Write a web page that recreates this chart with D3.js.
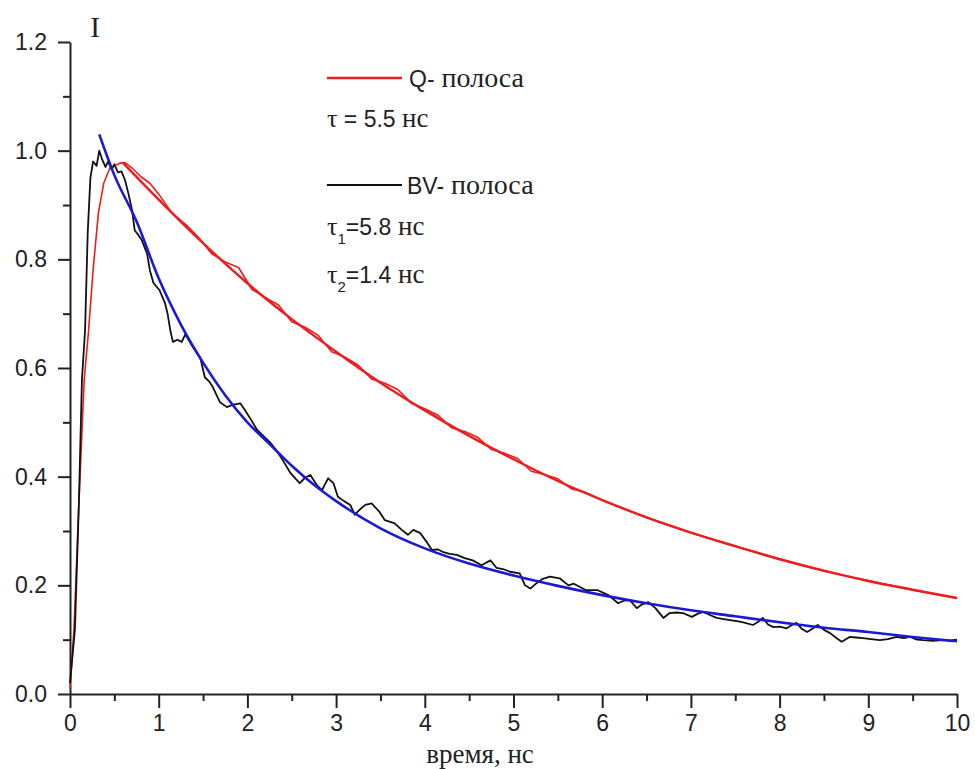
<!DOCTYPE html>
<html>
<head>
<meta charset="utf-8">
<script src="https://cdn.jsdelivr.net/npm/d3@7"></script>
<style>
  body { margin: 0; background: #fff; }
  svg { display: block; }
</style>
</head>
<body>
<svg id="chart"></svg>
<script>
// Data (time in ns, normalised intensity)

// Q band, measured
const qRaw = [
  [0, 0.01], [0.045, 0.12], [0.1, 0.35], [0.16, 0.578], [0.21, 0.67], [0.26, 0.78],
  [0.32, 0.885], [0.38, 0.94], [0.45, 0.968], [0.56, 0.977], [0.62, 0.978], [0.7, 0.968],
  [0.8, 0.952], [0.9, 0.94], [1.0, 0.92], [1.15, 0.885], [1.3, 0.865], [1.45, 0.84],
  [1.6, 0.81], [1.75, 0.795], [1.9, 0.785], [2.05, 0.745], [2.2, 0.73], [2.35, 0.716],
  [2.5, 0.685], [2.65, 0.675], [2.8, 0.66], [2.95, 0.63], [3.1, 0.62], [3.25, 0.605],
  [3.4, 0.58], [3.55, 0.572], [3.7, 0.56], [3.85, 0.535], [4.0, 0.525], [4.15, 0.513],
  [4.3, 0.49], [4.45, 0.483], [4.6, 0.472], [4.75, 0.45], [4.9, 0.443], [5.05, 0.433],
  [5.2, 0.41], [5.35, 0.404], [5.5, 0.396], [5.65, 0.378], [5.8, 0.372], [6.0, 0.357],
  [6.5, 0.325], [7.0, 0.297], [7.5, 0.272], [8.0, 0.249], [8.5, 0.226], [9.0, 0.209],
  [9.5, 0.191], [10, 0.176]
]

// Q band, single exponential fit (tau = 5.5 ns)
const qFit = [
  [0.6, 0.977], [1.0, 0.91], [1.5, 0.83], [2.0, 0.756], [2.5, 0.69], [3.0, 0.63],
  [3.5, 0.573], [4.0, 0.522], [4.5, 0.475], [5.0, 0.432], [5.5, 0.392], [6.0, 0.357],
  [6.5, 0.325], [7.0, 0.297], [7.5, 0.272], [8.0, 0.248], [8.5, 0.227], [9.0, 0.208],
  [9.5, 0.192], [10, 0.177]
]

// BV band, measured
const bvRaw = [
  [0, 0.02], [0.056, 0.12], [0.1, 0.35], [0.135, 0.58], [0.17, 0.67], [0.2, 0.85],
  [0.23, 0.95], [0.26, 0.98], [0.3, 0.972], [0.33, 1.0], [0.36, 0.985], [0.4, 0.97],
  [0.43, 0.98], [0.47, 0.965], [0.5, 0.975], [0.54, 0.96], [0.58, 0.962], [0.62, 0.946],
  [0.66, 0.92], [0.7, 0.89], [0.73, 0.853], [0.77, 0.845], [0.81, 0.835], [0.87, 0.81],
  [0.9, 0.78], [0.94, 0.757], [1.01, 0.743], [1.07, 0.72], [1.1, 0.7], [1.13, 0.67],
  [1.16, 0.648], [1.21, 0.652], [1.26, 0.648], [1.3, 0.662], [1.38, 0.64], [1.47, 0.618],
  [1.52, 0.583], [1.57, 0.575], [1.61, 0.565], [1.69, 0.537], [1.77, 0.528], [1.83, 0.532],
  [1.92, 0.535], [1.97, 0.523], [2.04, 0.505], [2.11, 0.486], [2.18, 0.475], [2.25, 0.464],
  [2.32, 0.45], [2.4, 0.43], [2.48, 0.408], [2.55, 0.395], [2.59, 0.388], [2.65, 0.398],
  [2.71, 0.403], [2.78, 0.385], [2.84, 0.375], [2.91, 0.397], [2.97, 0.388], [3.02, 0.363],
  [3.09, 0.355], [3.16, 0.348], [3.21, 0.33], [3.27, 0.34], [3.33, 0.348], [3.4, 0.351],
  [3.49, 0.335], [3.55, 0.32], [3.66, 0.314], [3.74, 0.302], [3.81, 0.293], [3.87, 0.302],
  [3.95, 0.296], [4.02, 0.28], [4.08, 0.265], [4.15, 0.266], [4.21, 0.261], [4.28, 0.258],
  [4.36, 0.256], [4.45, 0.25], [4.54, 0.246], [4.64, 0.237], [4.74, 0.246], [4.81, 0.232],
  [4.88, 0.23], [4.96, 0.225], [5.07, 0.222], [5.13, 0.2], [5.19, 0.194], [5.26, 0.204],
  [5.33, 0.212], [5.41, 0.216], [5.52, 0.213], [5.62, 0.2], [5.68, 0.203], [5.75, 0.197],
  [5.82, 0.191], [5.95, 0.191], [6.07, 0.182], [6.18, 0.167], [6.25, 0.172], [6.31, 0.173],
  [6.39, 0.158], [6.45, 0.165], [6.52, 0.169], [6.6, 0.158], [6.69, 0.14], [6.76, 0.149],
  [6.84, 0.15], [6.91, 0.149], [7.01, 0.142], [7.08, 0.148], [7.14, 0.151], [7.22, 0.145],
  [7.29, 0.14], [7.37, 0.138], [7.44, 0.136], [7.52, 0.134], [7.59, 0.132], [7.7, 0.127],
  [7.76, 0.133], [7.81, 0.14], [7.87, 0.128], [7.93, 0.123], [8.0, 0.124], [8.08, 0.121],
  [8.14, 0.127], [8.19, 0.131], [8.25, 0.12], [8.31, 0.114], [8.37, 0.12], [8.43, 0.127],
  [8.5, 0.118], [8.57, 0.112], [8.64, 0.103], [8.7, 0.096], [8.79, 0.105], [8.86, 0.104],
  [8.94, 0.103], [9.03, 0.101], [9.13, 0.099], [9.22, 0.101], [9.32, 0.105], [9.4, 0.103],
  [9.47, 0.105], [9.55, 0.1], [9.62, 0.099], [9.73, 0.098], [9.84, 0.099], [9.92, 0.098],
  [10, 0.1]
]

// BV band, two-exponential fit (tau1 = 5.8 ns, tau2 = 1.4 ns)
const bvFit = [
  [0.33, 1.03], [0.5, 0.955], [0.75, 0.87], [1.0, 0.765], [1.25, 0.68], [1.5, 0.61],
  [1.75, 0.55], [2.0, 0.5], [2.25, 0.46], [2.5, 0.42], [2.75, 0.385], [3.0, 0.355],
  [3.5, 0.305], [4.0, 0.268], [4.5, 0.24], [5.0, 0.218], [5.5, 0.199], [6.0, 0.182],
  [6.5, 0.167], [7.0, 0.154], [7.5, 0.143], [8.0, 0.132], [8.5, 0.122], [9.0, 0.114],
  [9.5, 0.105], [10, 0.097]
]

const xTicks = [0, 1, 2, 3, 4, 5, 6, 7, 8, 9, 10]
const xMinorTicks = [0.5, 1.5, 2.5, 3.5, 4.5, 5.5, 6.5, 7.5, 8.5, 9.5]
const yTicks = [0, 0.2, 0.4, 0.6, 0.8, 1.0, 1.2]
const yMinorTicks = [0.1, 0.3, 0.5, 0.7, 0.9, 1.1]

const fullWidth = 975
const fullHeight = 769
const margin = { top: 42, right: 18, bottom: 75, left: 70 }

const SANS = '"Liberation Sans", Arial, sans-serif'
const SERIF = '"Liberation Serif", "Times New Roman", serif'

const red = '#ee1c1c'
const blue = '#1a1ad6'
const black = '#111'
const axisColor = '#222'

const svg = d3.select('#chart')
  .attr('width', fullWidth)
  .attr('height', fullHeight)

const xScale = d3.scaleLinear().domain([0, 10]).range([margin.left, fullWidth - margin.right])
const yScale = d3.scaleLinear().domain([0, 1.2]).range([fullHeight - margin.bottom, margin.top])

// Axes
const xAxis = svg.append('g')
  .attr('transform', `translate(0, ${yScale(0)})`)
  .call(d3.axisBottom(xScale).tickValues(xTicks).tickSize(14).tickSizeOuter(0).tickPadding(7).tickFormat(d3.format('d')))

svg.append('g')
  .attr('transform', `translate(0, ${yScale(0)})`)
  .call(d3.axisBottom(xScale).tickValues(xMinorTicks).tickSize(7).tickSizeOuter(0).tickFormat(''))
  .call(g => g.select('.domain').remove())

const yAxis = svg.append('g')
  .attr('transform', `translate(${xScale(0)}, 0)`)
  .call(d3.axisLeft(yScale).tickValues(yTicks).tickSize(12).tickSizeOuter(0).tickPadding(11).tickFormat(d3.format('.1f')))

svg.append('g')
  .attr('transform', `translate(${xScale(0)}, 0)`)
  .call(d3.axisLeft(yScale).tickValues(yMinorTicks).tickSize(7).tickSizeOuter(0).tickFormat(''))
  .call(g => g.select('.domain').remove())

svg.selectAll('.domain, .tick line')
  .attr('stroke', axisColor)
  .attr('stroke-width', 2)

svg.selectAll('.tick text')
  .attr('fill', axisColor)
  .style('font-family', SANS)
  .style('font-size', '23px')

// Axis titles
svg.append('text')
  .attr('x', 95)
  .attr('y', 37)
  .attr('text-anchor', 'middle')
  .attr('fill', axisColor)
  .style('font-family', SERIF)
  .style('font-size', '29px')
  .text('I')

svg.append('text')
  .attr('x', 480)
  .attr('y', 763)
  .attr('text-anchor', 'middle')
  .attr('fill', axisColor)
  .style('font-family', SERIF)
  .style('font-size', '27px')
  .text('время, нс')

// Curves
const line = d3.line()
  .x(d => xScale(d[0]))
  .y(d => yScale(d[1]))

const smooth = d3.line()
  .x(d => xScale(d[0]))
  .y(d => yScale(d[1]))
  .curve(d3.curveMonotoneX)

const series = [
  { data: qRaw, gen: line, color: red, width: 1.6 },
  { data: qFit, gen: smooth, color: red, width: 2.4 },
  { data: bvRaw, gen: line, color: black, width: 1.8 },
  { data: bvFit, gen: smooth, color: blue, width: 2.6 }
]

svg.append('g')
  .selectAll('path')
  .data(series)
  .enter()
  .append('path')
    .attr('d', s => s.gen(s.data))
    .attr('fill', 'none')
    .attr('stroke', s => s.color)
    .attr('stroke-width', s => s.width)
    .attr('stroke-linejoin', 'round')

// Legend
const legend = svg.append('g')

legend.append('line')
  .attr('x1', 327).attr('x2', 402).attr('y1', 78).attr('y2', 78)
  .attr('stroke', red).attr('stroke-width', 2.4)

legend.append('line')
  .attr('x1', 327).attr('x2', 402).attr('y1', 185).attr('y2', 185)
  .attr('stroke', black).attr('stroke-width', 2.2)

const addSpan = (t, font, size, str) => t.append('tspan')
  .style('font-family', font)
  .style('font-size', size + 'px')
  .text(str)

const label1 = legend.append('text').attr('x', 409).attr('y', 87).attr('fill', axisColor)
addSpan(label1, SANS, 23, 'Q-')
addSpan(label1, SERIF, 28, ' полоса')

const label2 = legend.append('text').attr('x', 407).attr('y', 194).attr('fill', axisColor)
addSpan(label2, SANS, 23, 'BV-')
addSpan(label2, SERIF, 28, ' полоса')

const tau = legend.append('text').attr('x', 327).attr('y', 127).attr('fill', axisColor)
addSpan(tau, SERIF, 26, 'τ')
addSpan(tau, SANS, 23, ' = 5.5 ')
addSpan(tau, SERIF, 27, ' нс')

const tauRows = [
  { sub: '1', value: '=5.8', y: 235 },
  { sub: '2', value: '=1.4', y: 283 }
]

tauRows.forEach(r => {
  const t = legend.append('text').attr('x', 327).attr('y', r.y).attr('fill', axisColor)
  addSpan(t, SERIF, 26, 'τ')
  addSpan(t, SANS, 15, r.sub).attr('dy', 9)
  addSpan(t, SANS, 23, r.value).attr('dy', -9)
  addSpan(t, SERIF, 27, ' нс')
})
</script>
</body>
</html>
